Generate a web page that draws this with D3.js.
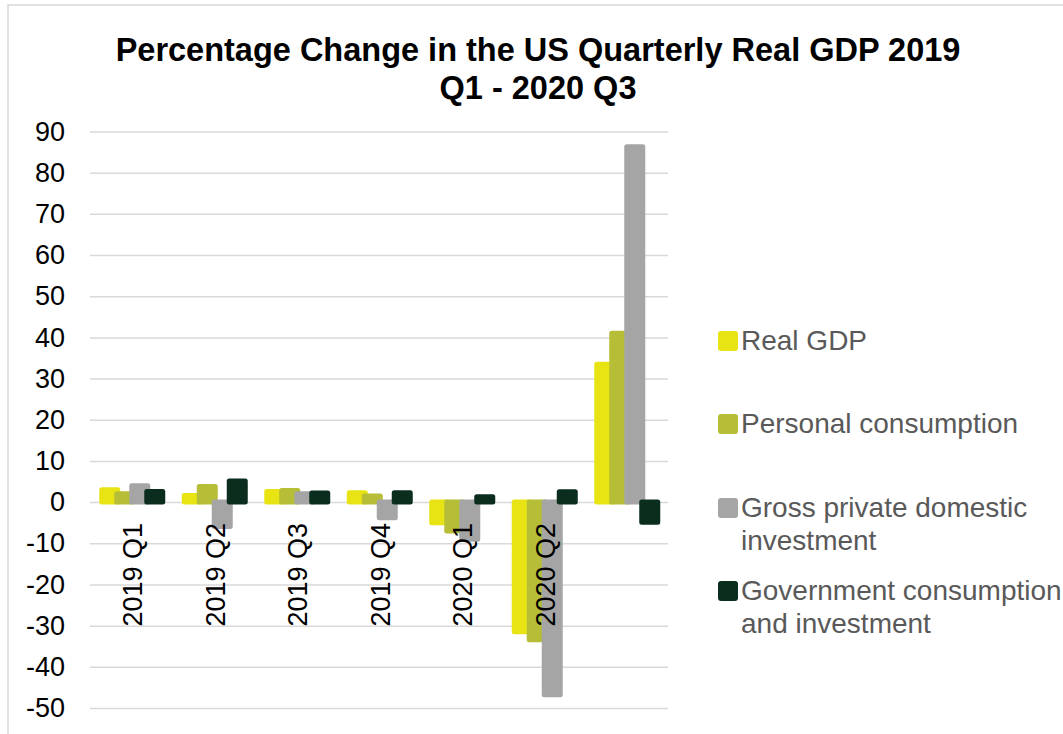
<!DOCTYPE html>
<html lang="en">
<head>
<meta charset="UTF-8">
<script src="https://d3js.org/d3.v7.min.js"></script>
<title>US Quarterly Real GDP</title>
<style>
  body { margin: 0; background: #fff; }
  text { font-family: Arial, "Liberation Sans", sans-serif; }
</style>
</head>
<body>
<script>
// data
var quarters = ["2019 Q1", "2019 Q2", "2019 Q3", "2019 Q4", "2020 Q1", "2020 Q2", "2020 Q3"];
var realGDP = [3.0, 1.6, 2.6, 2.3, -5.0, -31.5, 33.5];
var personal = [2.0, 3.8, 2.8, 1.5, -7.0, -33.4, 41.0];
var grossInvest = [4.0, -5.9, 2.0, -3.8, -9.0, -46.8, 86.3];
var government = [2.6, 5.1, 2.2, 2.3, 1.3, 2.5, -4.9];
var seriesNames = ["Real GDP", "Personal consumption", "Gross private domestic investment", "Government consumption and investment"];
var yTicks = [-50, -40, -30, -20, -10, 0, 10, 20, 30, 40, 50, 60, 70, 80, 90];

var seriesData = [realGDP, personal, grossInvest, government];
var colors = ["#E8E414", "#B6BD36", "#A5A5A5", "#0B2D1E"];
var legendLines = [["Real GDP"], ["Personal consumption"], ["Gross private domestic", "investment"], ["Government consumption", "and investment"]];

var W = 1063, H = 734;
var svg = d3.select("body").append("svg")
    .attr("width", W)
    .attr("height", H);

// chart border
svg.append("rect")
    .attr("x", 8).attr("y", 5)
    .attr("width", W + 10).attr("height", H + 10)
    .attr("fill", "#fff")
    .attr("stroke", "#d9d9d9")
    .attr("stroke-width", 1.5);

// title
var title = svg.append("text")
    .attr("text-anchor", "middle")
    .attr("font-size", 32.5)
    .attr("font-weight", "bold")
    .attr("fill", "#000");
title.append("tspan").attr("x", 538).attr("y", 61).text("Percentage Change in the US Quarterly Real GDP 2019");
title.append("tspan").attr("x", 538).attr("y", 99).text("Q1 - 2020 Q3");

var x = d3.scaleBand()
    .domain(quarters)
    .range([91, 668.5])
    .padding(0);

var y = d3.scaleLinear()
    .domain([-50, 90])
    .range([708, 131.5]);

// gridlines
svg.append("g")
    .attr("transform", "translate(90,0)")
    .call(d3.axisLeft(y).tickValues(yTicks).tickSize(-578).tickFormat(""))
    .call(function (g) {
        g.select(".domain").remove();
        g.selectAll(".tick line").attr("stroke", "#d9d9d9").attr("stroke-width", 1.5);
    });

// y labels (plain hyphen for negatives, like the original)
svg.append("g")
    .attr("transform", "translate(65,0)")
    .call(d3.axisLeft(y).tickValues(yTicks).tickSize(0).tickPadding(0)
        .tickFormat(function (d) { return String(d); }))
    .call(function (g) {
        g.select(".domain").remove();
        g.selectAll(".tick text")
            .attr("font-size", 27)
            .attr("font-family", "Arial, 'Liberation Sans', sans-serif")
            .attr("fill", "#000");
    });

// bars: overlapping, later series on top
var step = 15, inner = 16, stroke = 5;
seriesData.forEach(function (vals, si) {
    svg.append("g")
        .selectAll("rect")
        .data(vals)
        .enter()
        .append("rect")
        .attr("x", function (d, i) { return x(quarters[i]) + x.bandwidth() / 2 - 33 + si * step + stroke / 2; })
        .attr("y", function (d) { return Math.min(y(d), y(0)); })
        .attr("width", inner)
        .attr("height", function (d) { return Math.abs(y(d) - y(0)); })
        .attr("fill", colors[si])
        .attr("stroke", colors[si])
        .attr("stroke-width", stroke)
        .attr("stroke-linejoin", "round");
});

// category labels (rotated, under the zero line); the original shows none for the last quarter
svg.append("g")
    .selectAll("text")
    .data(quarters.slice(0, 6))
    .enter()
    .append("text")
    .attr("transform", function (d) { return "translate(" + (x(d) + x.bandwidth() / 2 + 10) + "," + 523 + ") rotate(-90)"; })
    .attr("text-anchor", "end")
    .attr("font-size", 27)
    .attr("fill", "#000")
    .text(function (d) { return d; });

// legend
var legendTop = [331, 414, 498, 581];
var lg = svg.append("g");
seriesNames.forEach(function (name, i) {
    lg.append("rect")
        .attr("x", 718).attr("y", legendTop[i])
        .attr("width", 20).attr("height", 20)
        .attr("rx", 3)
        .attr("fill", colors[i]);
    var t = lg.append("text")
        .attr("font-size", 28)
        .attr("fill", "#595959");
    legendLines[i].forEach(function (line, j) {
        t.append("tspan")
            .attr("x", 741)
            .attr("y", legendTop[i] + 19 + j * 33)
            .text(line);
    });
});
</script>
</body>
</html>
